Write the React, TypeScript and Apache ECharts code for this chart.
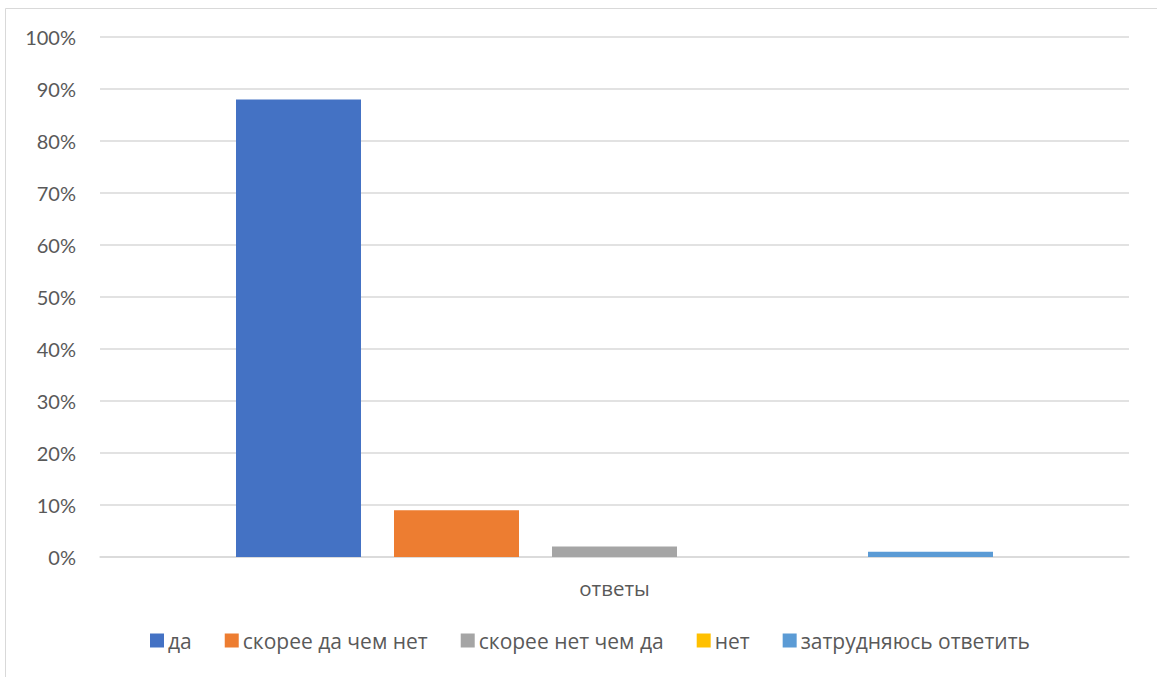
import React, { useEffect, useRef } from "react";
import * as echarts from "echarts";

const categories = ["ответы"];
const seriesNames = ["да", "скорее да чем нет", "скорее нет чем да", "нет", "затрудняюсь ответить"];
const seriesValues = [88, 9, 2, 0, 1];
const seriesColors = ["#4472C4", "#ED7D31", "#A5A5A5", "#FFC000", "#5B9BD5"];
const yTicks = { min: 0, max: 100, interval: 10 };

export default function App() {
  const ref = useRef<HTMLDivElement>(null);
  useEffect(() => {
    if (!ref.current) return;
    const chart = echarts.init(ref.current, undefined, { renderer: "svg" });
    const font = "Lato, 'Noto Sans', sans-serif";
    const font2 = "'Open Sans', 'Noto Sans', sans-serif";
    chart.setOption({
      animation: false,
      backgroundColor: "#ffffff",
      graphic: [
        {
          type: "rect",
          shape: { x: 5.5, y: 8.5, width: 1200, height: 720 },
          style: { fill: "none", stroke: "#D9D9D9", lineWidth: 1 },
          silent: true,
        },
      ],
      grid: { left: 100, right: 28, top: 37, bottom: 120, containLabel: false },
      legend: {
        top: 625,
        left: 145,
        itemWidth: 14,
        itemHeight: 14,
        itemGap: 33,
        icon: "rect",
        textStyle: { color: "#595959", fontSize: 21, fontFamily: font2, padding: [0, 0, 0, -1] },
        data: seriesNames,
      },
      xAxis: {
        type: "category",
        data: categories,
        axisLine: { show: true, lineStyle: { color: "#D9D9D9", width: 1.5 } },
        axisTick: { show: false },
        axisLabel: { color: "#595959", fontSize: 20.5, fontFamily: font2, margin: 20 },
      },
      yAxis: {
        type: "value",
        min: yTicks.min,
        max: yTicks.max,
        interval: yTicks.interval,
        axisLine: { show: false },
        axisTick: { show: false },
        splitLine: { lineStyle: { color: "#D9D9D9", width: 1.5 } },
        axisLabel: {
          color: "#595959",
          fontSize: 20,
          fontFamily: font,
          margin: 24,
          formatter: (v: number) => v + "%",
        },
      },
      series: seriesNames.map((name, i) => ({
        name,
        type: "bar",
        data: [seriesValues[i]],
        barWidth: 125,
        barGap: "26.4%",
        itemStyle: { color: seriesColors[i] },
      })),
    });
    return () => chart.dispose();
  }, []);
  return (
    <div
      ref={ref}
      style={{ position: "absolute", left: 0, top: 0, width: 1157, height: 677 }}
    />
  );
}
